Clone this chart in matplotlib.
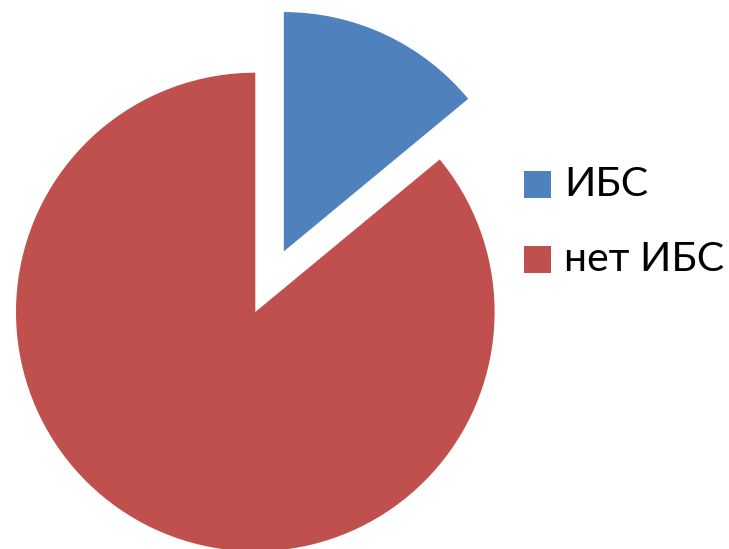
import matplotlib.pyplot as plt
from matplotlib.patches import Rectangle

labels = ["ИБС", "нет ИБС"]
shares = [14, 86]
colors = ["#4F81BD", "#C0504D"]
explode = [0.28, 0]

W, H = 729, 549
R = 239.3
fig = plt.figure(figsize=(W / 100, H / 100), dpi=100)
ax = fig.add_axes([0, 0, 1, 1])

# pie() offsets exploded wedges in data units, so scale by the radius
ax.pie(shares, explode=[e * R for e in explode], colors=colors, startangle=90,
       counterclock=False, radius=R, center=(255.3, H - 312),
       wedgeprops=dict(linewidth=0))

ax.set_xlim(0, W)
ax.set_ylim(0, H)
ax.set_aspect("equal")
ax.axis("off")

# legend drawn by hand: squares and labels to the right of the pie
for i, (lab, col) in enumerate(zip(labels, colors)):
    top = 171 + i * 75
    ax.add_patch(Rectangle((524, H - top - 27), 27, 27, color=col, lw=0))
    ax.text(564, H - top - 13.5, lab, fontsize=29.5, family="Lato",
            va="center", ha="left", color="black")

fig.savefig("out.png", dpi=100)
